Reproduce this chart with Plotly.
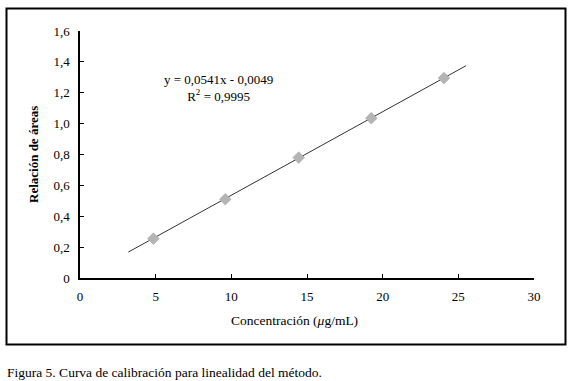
import plotly.graph_objects as go

conc = [4.85, 9.6, 14.45, 19.25, 24.05]
ratio = [0.255, 0.51, 0.78, 1.035, 1.295]
slope = 0.0541
intercept = -0.0049
trend_x = [3.2, 25.5]
trend_y = [slope * x + intercept for x in trend_x]

x_ticks = [0, 5, 10, 15, 20, 25, 30]
x_labels = ["0", "5", "10", "15", "20", "25", "30"]
y_ticks = [0, 0.2, 0.4, 0.6, 0.8, 1.0, 1.2, 1.4, 1.6]
y_labels = ["0", "0,2", "0,4", "0,6", "0,8", "1,0", "1,2", "1,4", "1,6"]

FONT = "Liberation Serif"

fig = go.Figure()
fig.add_trace(go.Scatter(x=trend_x, y=trend_y, mode="lines",
                         line=dict(color="#333333", width=1), showlegend=False))
fig.add_trace(go.Scatter(x=conc, y=ratio, mode="markers",
                         marker=dict(symbol="diamond", size=9, color="#b4b4b4",
                                     line=dict(color="#a0a0a0", width=0.5)),
                         showlegend=False))

L, T, R, B = 80, 31, 38, 103
W, H = 572, 381
pw, ph = W - L - R, H - T - B

def px(x):
    return (x - L) / pw

def py(y):
    return (H - B - y) / ph

fig.update_layout(
    width=W, height=H,
    margin=dict(l=L, r=R, t=T, b=B),
    paper_bgcolor="white", plot_bgcolor="white",
    font=dict(family=FONT, size=13, color="black"),
    xaxis=dict(range=[0, 30], tickvals=x_ticks, ticktext=x_labels,
               showgrid=False, zeroline=False, showline=True, linecolor="black", linewidth=1.5,
               ticks="inside", ticklen=4, tickcolor="black", tickwidth=1,
               ticklabelstandoff=6, tickfont=dict(family=FONT, size=13)),
    yaxis=dict(range=[0, 1.6], tickvals=y_ticks, ticktext=y_labels,
               showgrid=False, zeroline=False, showline=True, linecolor="black", linewidth=1.5,
               ticks="inside", ticklen=4, tickcolor="black", tickwidth=1,
               ticklabelstandoff=6, tickfont=dict(family=FONT, size=13)),
    shapes=[dict(type="rect", xref="paper", yref="paper",
                 x0=px(6.5), x1=px(565.5), y0=py(344.5), y1=py(8.5),
                 line=dict(color="black", width=2), fillcolor="rgba(0,0,0,0)", layer="below")],
    annotations=[
        dict(text="y = 0,0541x - 0,0049<br>R<sup>2</sup> = 0,9995", xref="paper", yref="paper",
             x=px(218), y=py(88), xanchor="center", yanchor="middle", showarrow=False,
             font=dict(family=FONT, size=13)),
        dict(text="<b>Relación de áreas</b>", xref="paper", yref="paper",
             x=px(33), y=py(155), xanchor="center", yanchor="middle", showarrow=False,
             textangle=-90, font=dict(family=FONT, size=13)),
        dict(text="Concentración (<i>μ</i>g/mL)", xref="paper", yref="paper",
             x=px(294), y=py(320), xanchor="center", yanchor="middle", showarrow=False,
             font=dict(family=FONT, size=13.5)),
        dict(text="Figura 5. Curva de calibración para linealidad del método.", xref="paper", yref="paper",
             x=px(5), y=py(372), xanchor="left", yanchor="middle", showarrow=False,
             font=dict(family=FONT, size=13.5)),
    ],
)

fig.write_html("out.html", config={"displayModeBar": False},
               post_script="document.body.style.margin='0px';document.body.style.overflow='hidden';")
